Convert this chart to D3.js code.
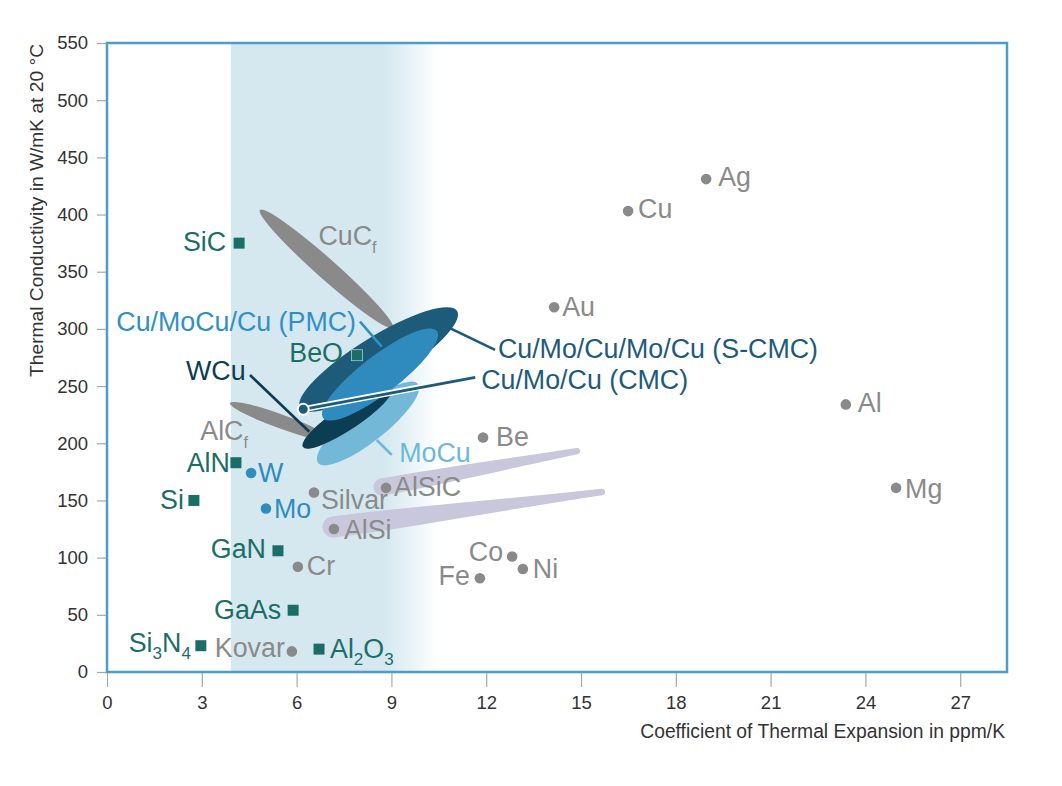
<!DOCTYPE html>
<html><head><meta charset="utf-8">
<script src="https://cdn.jsdelivr.net/npm/d3@7"></script>
<style>
body{margin:0;background:#fff}
svg{display:block}
text{font-family:"Liberation Sans",Arial,Helvetica,sans-serif}
</style>
</head><body>
<svg id="chart" width="1062" height="786"></svg>
<script>
// ---------------- DATA ----------------
const xTicks = [0, 3, 6, 9, 12, 15, 18, 21, 24, 27];
const yTicks = [0, 50, 100, 150, 200, 250, 300, 350, 400, 450, 500, 550];

// ceramics / semiconductors (squares)
const ceramicNames = ["SiC", "BeO", "AlN", "Si", "GaN", "GaAs", "Si_3N_4", "Al_2O_3"];
const ceramicCTE   = [4.18, 7.91, 4.08, 2.75, 5.41, 5.89, 2.97, 6.71];
const ceramicTC    = [375, 277, 183, 150, 106, 54, 23, 20];

// metals and alloys (grey dots)
const metalNames = ["Ag", "Cu", "Au", "Be", "Al", "Mg", "AlSiC", "Silvar", "AlSi", "Co", "Ni", "Fe", "Cr", "Kovar"];
const metalCTE   = [18.96, 16.49, 14.15, 11.9, 23.38, 24.97, 8.83, 6.55, 7.18, 12.82, 13.16, 11.8, 6.04, 5.85];
const metalTC    = [431, 403, 319, 205, 234, 161, 161, 157, 125, 101, 90, 82, 92, 18];

// refractory metals (blue dots)
const refractoryNames = ["W", "Mo"];
const refractoryCTE   = [4.56, 5.03];
const refractoryTC    = [174, 143];

// composite ranges (ellipses: from / to along major axis)
const compositeNames = ["CuC_f", "AlC_f", "MoCu", "WCu", "S-CMC", "PMC"];
const compositeCTE1  = [4.84, 3.89, 6.68, 6.20, 6.11, 6.84];
const compositeTC1   = [404.0, 235.2, 182.8, 196.7, 230.8, 222.1];
const compositeCTE2  = [9.05, 7.12, 9.84, 9.02, 11.08, 10.44];
const compositeTC2   = [300.8, 202.9, 251.8, 248.3, 315.7, 298.2];

// Al-based composites (tapered bands)
const bandNames = ["AlSiC", "AlSi"];
const bandCTE1  = [8.70, 7.15];
const bandTC1   = [161.8, 126.8];
const bandCTE2  = [14.87, 15.66];
const bandTC2   = [193.2, 157.4];

// Cu/Mo/Cu (CMC) point
const cmcCTE = [6.21];
const cmcTC  = [229.7];

// matching CTE zone (solid from..to, fade end)
const zoneCTE = [3.92, 8.8, 10.5];

// ---------------- LAYOUT / STYLE ----------------
const frame = {left: 107, right: 1007, top: 43, bottom: 672};
const xMax = 28.48, yMax = 550;
const labelSize = 26.8;

const C = {
  teal: "#1b6e68", grey: "#8a8a8a", greyText: "#8a8a8a", blue: "#2f8cc1",
  frame: "#4d9dca", tick: "#a8a8a8", tickText: "#333", zone: "#d5e8f0",
  purple: "#c9c7dc"
};
const compositeStyle = {
  "CuC_f": {fill: "#8a8a8a", ry: 10},
  "AlC_f": {fill: "#8a8a8a", ry: 7},
  "MoCu":  {fill: "#74b8d8", ry: 18},
  "WCu":   {fill: "#0c3d52", ry: 12},
  "S-CMC": {fill: "#1d5b7b", ry: 23},
  "PMC":   {fill: "#2f8bbd", ry: 19}
};
const bandStyle = {"AlSiC": {r1: 8.5, r2: 3.2}, "AlSi": {r1: 10.5, r2: 3.2}};

// label offsets for point labels (px relative to point)
const ptLabel = {
  "SiC": [-13, 8, "end"], "BeO": [-14, 7, "end"], "AlN": [-6, 9, "end"], "Si": [-10, 9, "end"],
  "GaN": [-12, 7, "end"], "GaAs": [-12, 9, "end"], "Si_3N_4": [-10, 6, "end"], "Al_2O_3": [11, 9, "start"],
  "Ag": [12, 7, "start"], "Cu": [10, 7, "start"], "Au": [8, 9, "start"], "Be": [13, 8, "start"],
  "Al": [12, 8, "start"], "Mg": [9, 10, "start"], "AlSiC": [8, 8, "start"], "Silvar": [7, 17, "start"],
  "AlSi": [10, 10, "start"], "Co": [-9, 5, "end"], "Ni": [10, 9, "start"], "Fe": [-10, 7, "end"],
  "Cr": [9, 8, "start"], "Kovar": [-7, 6, "end"],
  "W": [7, 9, "start"], "Mo": [8, 10, "start"]
};

// annotation labels for composites (positions in data units, baseline)
const annot = [
  {text: "CuC_f", cte: 6.69, tc: 373.4, anchor: "start", color: "#8a8a8a"},
  {text: "AlC_f", cte: 4.46, tc: 202.9, anchor: "end", color: "#8a8a8a"},
  {text: "Cu/MoCu/Cu (PMC)", cte: 7.88, tc: 298.2, anchor: "end", color: "#3090c4",
   line: [[8.006, 306.3], [8.693, 284.5]]},
  {text: "WCu", cte: 2.5, tc: 255.3, anchor: "start", color: "#0c3d52",
   line: [[4.525, 259.7], [6.402, 210.1]]},
  {text: "Cu/Mo/Cu/Mo/Cu (S-CMC)", cte: 12.37, tc: 274.5, anchor: "start", color: "#1d5b7b",
   line: [[10.80, 301.4], [12.28, 281.6]]},
  {text: "Cu/Mo/Cu (CMC)", cte: 11.84, tc: 247.2, anchor: "start", color: "#1d5b7b"},
  {text: "MoCu", cte: 9.25, tc: 183.9, anchor: "start", color: "#6cb8dc",
   line: [[8.535, 202.9], [9.01, 189.8]]}
];
const cmcLineEnd = [11.59, 257.7];

// ---------------- DRAW ----------------
const svg = d3.select("#chart");
const x = d3.scaleLinear().domain([0, xMax]).range([frame.left, frame.right]);
const y = d3.scaleLinear().domain([0, yMax]).range([frame.bottom, frame.top]);

// zone gradient
const defs = svg.append("defs");
const grad = defs.append("linearGradient").attr("id", "zoneGrad")
  .attr("gradientUnits", "userSpaceOnUse")
  .attr("x1", x(zoneCTE[1])).attr("x2", x(zoneCTE[2])).attr("y1", 0).attr("y2", 0);
grad.append("stop").attr("offset", 0).attr("stop-color", C.zone).attr("stop-opacity", 1);
grad.append("stop").attr("offset", 1).attr("stop-color", C.zone).attr("stop-opacity", 0);

svg.append("rect")
  .attr("x", x(zoneCTE[0])).attr("y", frame.top)
  .attr("width", x(zoneCTE[2]) - x(zoneCTE[0])).attr("height", frame.bottom - frame.top)
  .attr("fill", "url(#zoneGrad)");

// rich text helper (underscore = subscript)
function richText(sel, str, subSize, subDy) {
  const parts = str.split(/(_.)/).filter(s => s.length);
  let inSub = false;
  parts.forEach(p => {
    if (p[0] === "_") {
      sel.append("tspan").attr("font-size", subSize).attr("dy", subDy).text(p[1]);
      inSub = true;
    } else {
      sel.append("tspan").attr("dy", inSub ? -subDy : 0).text(p);
      inSub = false;
    }
  });
}

// composite ellipse geometry
function ellipseGeom(i) {
  const p1 = [x(compositeCTE1[i]), y(compositeTC1[i])];
  const p2 = [x(compositeCTE2[i]), y(compositeTC2[i])];
  return {
    cx: (p1[0] + p2[0]) / 2, cy: (p1[1] + p2[1]) / 2,
    rx: Math.hypot(p2[0] - p1[0], p2[1] - p1[1]) / 2,
    ang: Math.atan2(p2[1] - p1[1], p2[0] - p1[0]) * 180 / Math.PI
  };
}

function drawEllipse(name) {
  const i = compositeNames.indexOf(name);
  const g = ellipseGeom(i);
  svg.append("ellipse")
    .attr("cx", g.cx).attr("cy", g.cy).attr("rx", g.rx).attr("ry", compositeStyle[name].ry)
    .attr("transform", `rotate(${g.ang},${g.cx},${g.cy})`)
    .attr("fill", compositeStyle[name].fill);
}

function bandPath(i) {
  const L = [x(bandCTE1[i]), y(bandTC1[i])];
  const R = [x(bandCTE2[i]), y(bandTC2[i])];
  const st = bandStyle[bandNames[i]];
  const dx = R[0] - L[0], dy = R[1] - L[1], len = Math.hypot(dx, dy);
  const ux = dx / len, uy = dy / len, nx = -uy, ny = ux;
  const au = Math.atan2(uy, ux);
  const p = d3.path();
  p.moveTo(L[0] + nx * st.r1, L[1] + ny * st.r1);
  p.bezierCurveTo(L[0] + nx * st.r1 + ux * len * 0.3, L[1] + ny * st.r1 + uy * len * 0.3,
                  R[0] + nx * st.r2 * 1.6 - ux * len * 0.35, R[1] + ny * st.r2 * 1.6 - uy * len * 0.35,
                  R[0] + nx * st.r2, R[1] + ny * st.r2);
  p.arc(R[0], R[1], st.r2, au + Math.PI / 2, au - Math.PI / 2, true);
  p.bezierCurveTo(R[0] - nx * st.r2 * 1.6 - ux * len * 0.35, R[1] - ny * st.r2 * 1.6 - uy * len * 0.35,
                  L[0] - nx * st.r1 + ux * len * 0.3, L[1] - ny * st.r1 + uy * len * 0.3,
                  L[0] - nx * st.r1, L[1] - ny * st.r1);
  p.arc(L[0], L[1], st.r1, au - Math.PI / 2, au + Math.PI / 2, true);
  p.closePath();
  return p.toString();
}

// grey fibre composites
drawEllipse("CuC_f");
drawEllipse("AlC_f");
// Al based bands
bandNames.forEach((n, i) => svg.append("path").attr("d", bandPath(i)).attr("fill", C.purple));
// Cu/Mo composites
drawEllipse("MoCu");
drawEllipse("WCu");
drawEllipse("S-CMC");
drawEllipse("PMC");

// leader lines
annot.forEach(a => {
  if (!a.line) return;
  svg.append("line")
    .attr("x1", x(a.line[0][0])).attr("y1", y(a.line[0][1]))
    .attr("x2", x(a.line[1][0])).attr("y2", y(a.line[1][1]))
    .attr("stroke", a.color).attr("stroke-width", 2.6);
});

// CMC line with white outline
const cmcX = x(cmcCTE[0]), cmcY = y(cmcTC[0]);
svg.append("line").attr("x1", cmcX).attr("y1", cmcY)
  .attr("x2", x(cmcLineEnd[0])).attr("y2", y(cmcLineEnd[1]))
  .attr("stroke", "#fff").attr("stroke-width", 6).attr("stroke-linecap", "butt");
svg.append("line").attr("x1", cmcX).attr("y1", cmcY)
  .attr("x2", x(cmcLineEnd[0]) + 2).attr("y2", y(cmcLineEnd[1]))
  .attr("stroke", "#1d5b7b").attr("stroke-width", 2.8);
svg.append("circle").attr("cx", cmcX).attr("cy", cmcY).attr("r", 5.5)
  .attr("fill", "#1d5b7b").attr("stroke", "#fff").attr("stroke-width", 2);

// points
const sq = 11;
ceramicNames.forEach((n, i) => {
  svg.append("rect")
    .attr("x", x(ceramicCTE[i]) - sq / 2).attr("y", y(ceramicTC[i]) - sq / 2)
    .attr("width", sq).attr("height", sq).attr("fill", C.teal)
    .attr("stroke", n === "BeO" ? "#a9cbd3" : "none").attr("stroke-width", 0.8);
});
metalNames.forEach((n, i) => {
  svg.append("circle").attr("cx", x(metalCTE[i])).attr("cy", y(metalTC[i])).attr("r", 5.3).attr("fill", C.grey);
});
refractoryNames.forEach((n, i) => {
  svg.append("circle").attr("cx", x(refractoryCTE[i])).attr("cy", y(refractoryTC[i])).attr("r", 5.3).attr("fill", C.blue);
});

// point labels
function pointLabel(name, px, py, color) {
  const o = ptLabel[name];
  const t = svg.append("text")
    .attr("x", px + o[0]).attr("y", py + o[1])
    .attr("text-anchor", o[2]).attr("font-size", labelSize).attr("fill", color);
  richText(t, name, 17, 7);
}
ceramicNames.forEach((n, i) => pointLabel(n, x(ceramicCTE[i]), y(ceramicTC[i]), C.teal));
metalNames.forEach((n, i) => pointLabel(n, x(metalCTE[i]), y(metalTC[i]), C.greyText));
refractoryNames.forEach((n, i) => pointLabel(n, x(refractoryCTE[i]), y(refractoryTC[i]), C.blue));

// annotation labels
annot.forEach(a => {
  const t = svg.append("text")
    .attr("x", x(a.cte)).attr("y", y(a.tc))
    .attr("text-anchor", a.anchor).attr("font-size", labelSize).attr("fill", a.color);
  richText(t, a.text, 16, 8);
});

// frame
svg.append("rect")
  .attr("x", frame.left).attr("y", frame.top)
  .attr("width", frame.right - frame.left).attr("height", frame.bottom - frame.top)
  .attr("fill", "none").attr("stroke", C.frame).attr("stroke-width", 2.5);

// axes
const yAxis = d3.axisLeft(y).tickValues(yTicks).tickSize(9).tickPadding(9);
const gy = svg.append("g").attr("transform", `translate(${frame.left - 1},0)`).call(yAxis);
gy.select(".domain").remove();
gy.selectAll(".tick line").attr("stroke", C.tick).attr("stroke-width", 1.2);
gy.selectAll(".tick text").attr("font-size", 18.5).attr("fill", C.tickText)
  .attr("font-family", '"Liberation Sans",Arial,sans-serif');

const xAxis = d3.axisBottom(x).tickValues(xTicks).tickSize(14).tickPadding(9);
const gx = svg.append("g").attr("transform", `translate(0,${frame.bottom + 1})`).call(xAxis);
gx.select(".domain").remove();
gx.selectAll(".tick line").attr("stroke", C.tick).attr("stroke-width", 1.2);
gx.selectAll(".tick text").attr("font-size", 18.5).attr("fill", C.tickText)
  .attr("font-family", '"Liberation Sans",Arial,sans-serif');

// axis titles
svg.append("text")
  .attr("x", 1005).attr("y", 738).attr("text-anchor", "end")
  .attr("font-size", 19.3).attr("fill", "#333")
  .text("Coefficient of Thermal Expansion in ppm/K");
svg.append("text")
  .attr("transform", `translate(43,44) rotate(-90)`).attr("text-anchor", "end")
  .attr("font-size", 19.2).attr("fill", "#333")
  .text("Thermal Conductivity in W/mK at 20 °C");
</script>
</body></html>
